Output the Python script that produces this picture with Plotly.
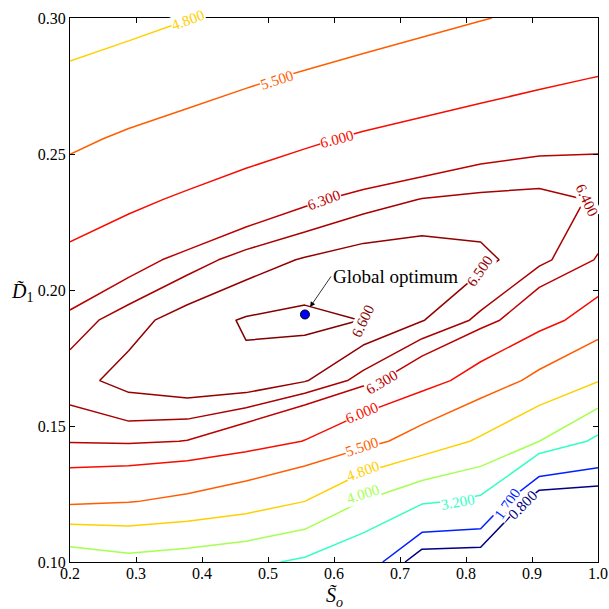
import plotly.graph_objects as go

# grid of the objective
x_vals = [0.2, 0.2889, 0.3778, 0.4667, 0.5556, 0.6444, 0.7333, 0.8222, 0.9111, 1.0]
y_vals = [0.1, 0.1222, 0.1444, 0.1667, 0.1889, 0.2111, 0.2333, 0.2556, 0.2778, 0.3]

z_r0 = [3.455, 3.745, 3.597, 3.395, 3.065, 2.48, 0.12, 0.08, 0.0, -0.1]
z_r1 = [5.60, 5.52, 5.38, 5.15, 4.795, 3.97, 3.33, 3.02, 0.05, 0.037]
z_r2 = [6.314, 6.33, 6.295, 6.177, 5.99, 5.69, 5.25, 4.70, 4.0, 3.01]
z_r3 = [6.458, 6.541, 6.583, 6.58, 6.509, 6.36, 6.16, 5.83, 5.355, 4.83]
z_r4 = [6.344, 6.458, 6.552, 6.61, 6.63, 6.598, 6.506, 6.375, 6.145, 5.813]
z_r5 = [6.084, 6.235, 6.349, 6.445, 6.51, 6.556, 6.564, 6.532, 6.43, 6.29]
z_r6 = [5.803, 5.925, 6.052, 6.178, 6.271, 6.35, 6.404, 6.424, 6.434, 6.39]
z_r7 = [5.396, 5.58, 5.714, 5.832, 5.946, 6.045, 6.125, 6.212, 6.247, 6.27]
z_r8 = [4.95, 5.107, 5.287, 5.434, 5.56, 5.682, 5.775, 5.851, 5.944, 6.01]
z_r9 = [4.43, 4.613, 4.783, 4.98, 5.11, 5.242, 5.372, 5.482, 5.577, 5.68]
z_vals = [z_r0, z_r1, z_r2, z_r3, z_r4, z_r5, z_r6, z_r7, z_r8, z_r9]

levels = [0.8, 1.7, 3.2, 4.0, 4.8, 5.5, 6.0, 6.3, 6.4, 6.5, 6.6]
level_colors = ["#000080", "#001fff", "#34ffc2", "#a6ff51", "#ffd000", "#ff5e00",
                "#f70d00", "#bb0000", "#a80000", "#930000", "#800000"]

# inline contour labels: level, label x, label y, rotation (deg, clockwise)
label_level = [4.8, 5.5, 6.0, 6.3, 6.4, 6.5, 6.6, 6.3, 6.0, 5.5, 4.8, 4.0, 3.2, 1.7, 0.8]
label_x = [0.379, 0.514, 0.605, 0.585, 0.983, 0.821, 0.644, 0.673, 0.642, 0.642, 0.644, 0.644, 0.788, 0.862, 0.886]
label_y = [0.2993, 0.2772, 0.2555, 0.2331, 0.2331, 0.2070, 0.1886, 0.1662, 0.1548, 0.1423, 0.1335, 0.1250, 0.1220, 0.1215, 0.1209]
label_angle = [-20, -18, -15, -20, 65, -55, -65, -30, -22, -18, -20, -18, -10, -55, -45]

opt_x = [0.556]
opt_y = [0.191]
opt_label = "Global optimum"

x_ticks = [0.2, 0.3, 0.4, 0.5, 0.6, 0.7, 0.8, 0.9, 1.0]
y_ticks = [0.10, 0.15, 0.20, 0.25, 0.30]

FONT = "Liberation Serif"

fig = go.Figure()
for lv, col in zip(levels, level_colors):
    fig.add_trace(go.Contour(
        x=x_vals, y=y_vals, z=z_vals,
        autocontour=False,
        contours=dict(start=lv, end=lv, size=1, coloring="none", showlabels=False),
        line=dict(color=col, width=1.5, smoothing=0),
        showscale=False, hoverinfo="skip"))

fig.add_trace(go.Scatter(
    x=opt_x, y=opt_y, mode="markers",
    marker=dict(size=9, color="#0000ff", line=dict(color="black", width=1)),
    showlegend=False, hoverinfo="skip"))

color_of = dict(zip(levels, level_colors))
for lv, lx, ly, ang in zip(label_level, label_x, label_y, label_angle):
    fig.add_annotation(x=lx, y=ly, xref="x", yref="y", text=f"{lv:.3f}",
                       showarrow=False, textangle=ang, bgcolor="white", borderpad=0,
                       font=dict(family=FONT, size=15, color=color_of[lv]))

fig.add_annotation(
    x=opt_x[0], y=opt_y[0], ax=0.5955, ay=0.2050, axref="x", ayref="y",
    xref="x", yref="y", text=opt_label, xanchor="left", yanchor="middle",
    font=dict(family=FONT, size=19, color="black"),
    showarrow=True, arrowhead=2, arrowsize=1.3, arrowwidth=0.8,
    arrowcolor="black", standoff=9)

fig.add_annotation(
    xref="paper", yref="y", x=-0.066, y=0.1989, xanchor="right", yanchor="middle",
    text="<i>D\u0303</i><sub>1</sub>",
    showarrow=False, font=dict(family=FONT, size=20, color="black"))
fig.add_annotation(
    xref="x", yref="paper", x=0.6015, y=-0.064, xanchor="center", yanchor="middle",
    text="<i>S\u0303</i><sub><i>o</i></sub>",
    showarrow=False, font=dict(family=FONT, size=20, color="black"))

axis_common = dict(showgrid=False, zeroline=False, showline=True, linecolor="black",
                   linewidth=1, mirror="allticks", ticks="inside", ticklen=5,
                   tickcolor="black", automargin=False,
                   tickfont=dict(family=FONT, size=16, color="black"))
fig.update_xaxes(range=[0.2, 1.0], tickvals=x_ticks, ticklabelstandoff=-3,
                 ticktext=[f"{v:.1f}" for v in x_ticks], **axis_common)
fig.update_yaxes(range=[0.1, 0.3], tickvals=y_ticks,
                 ticktext=[f"{v:.2f}" for v in y_ticks], **axis_common)

fig.update_layout(width=609, height=609, margin=dict(l=70, r=11, t=18, b=47),
                  plot_bgcolor="white", paper_bgcolor="white", showlegend=False)

fig.write_html("out.html", config={"displayModeBar": False},
               post_script="document.body.style.margin='0px';")
